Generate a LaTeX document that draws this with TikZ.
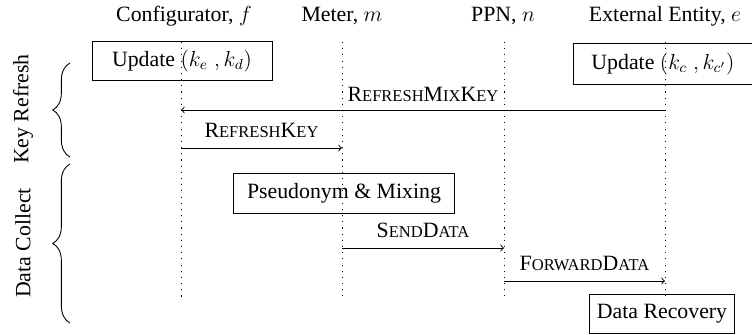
\documentclass[tikz,border=0pt]{standalone}
\usepackage{fontspec}
\setmainfont{Liberation Serif}
\usetikzlibrary{decorations.pathreplacing}
\newcommand\fsc[1]{{\fontsize{9.1pt}{10pt}\selectfont\MakeUppercase{#1}}}
\newcommand\bigtxt{\fontsize{12pt}{14pt}\selectfont}
\begin{document}
\begin{tikzpicture}[x=0.55pt,y=-0.55pt,
  font=\bigtxt,
  life/.style={line width=0.5pt, dash pattern=on 0.6pt off 2.8pt},
  boxnode/.style={draw, line width=0.5pt, minimum height=21.5pt, inner sep=0pt},
  msg/.style={->, line width=0.5pt},
  lbl/.style={anchor=base, yshift=6pt},
  head/.style={anchor=base},
  phase/.style={rotate=90},
  brc/.style={decorate, decoration={brace, amplitude=9.5pt}, line width=0.5pt}]
\useasboundingbox (0,0) rectangle (752,335);

% headers
\node[head] (hf) at (184,22) {Configurator, $f$};
\node[head] (hm) at (342,22) {Meter, $m$};
\node[head] (hn) at (503,22) {PPN, $n$};
\node[head] (he) at (665,22) {External Entity, $e$};

% lifelines
\coordinate (ft) at (181,42); \coordinate (fb) at (181,297);
\coordinate (mt) at (342,42); \coordinate (mb) at (342,296);
\coordinate (nt) at (504,42); \coordinate (nb) at (504,296);
\coordinate (et) at (665,42); \coordinate (eb) at (665,296);
\draw[life] (ft) -- (fb);
\draw[life] (mt) -- (mb);
\draw[life] (nt) -- (nb);
\draw[life] (et) -- (eb);

% boxes
\node[boxnode, minimum width=99pt] (upf) at (182,61) {Update $(k_e\;, k_d)$\hspace{4pt}};
\node[boxnode, minimum width=98pt, minimum height=23pt] (upe) at (663,64) {Update $(k_c\;, k_{c'})$};
\node[boxnode, minimum width=122pt, minimum height=22pt] (pm) at (344,193) {Pseudonym \& Mixing};
\node[boxnode, minimum width=80pt] (dr) at (662,314) {Data Recovery};

% message anchor points
\coordinate (f1) at (181,110); \coordinate (e1) at (665,110);
\coordinate (f2) at (181,148); \coordinate (m2) at (342,148);
\coordinate (m3) at (342,248); \coordinate (n3) at (504,248);
\coordinate (n4) at (504,281); \coordinate (e4) at (665,281);

\draw[msg] (e1) -- (f1) node[midway, lbl, yshift=-1.5pt] (l1) {R\fsc{efresh}M\fsc{ix}K\fsc{ey}};
\draw[msg] (f2) -- (m2) node[midway, lbl] (l2) {R\fsc{efresh}K\fsc{ey}};
\draw[msg] (m3) -- (n3) node[midway, lbl] (l3) {S\fsc{end}D\fsc{ata}};
\draw[msg] (n4) -- (e4) node[midway, lbl] (l4) {F\fsc{orward}D\fsc{ata}};

% phases
\coordinate (b1s) at (70,157); \coordinate (b1e) at (70,63);
\coordinate (b2s) at (70,323); \coordinate (b2e) at (70,164);
\draw[brc] (b1s) -- (b1e);
\draw[brc] (b2s) -- (b2e);
\node[phase] (p1) at (23,109) {Key Refresh};
\node[phase] (p2) at (23,243) {Data Collect};
\end{tikzpicture}
\end{document}
